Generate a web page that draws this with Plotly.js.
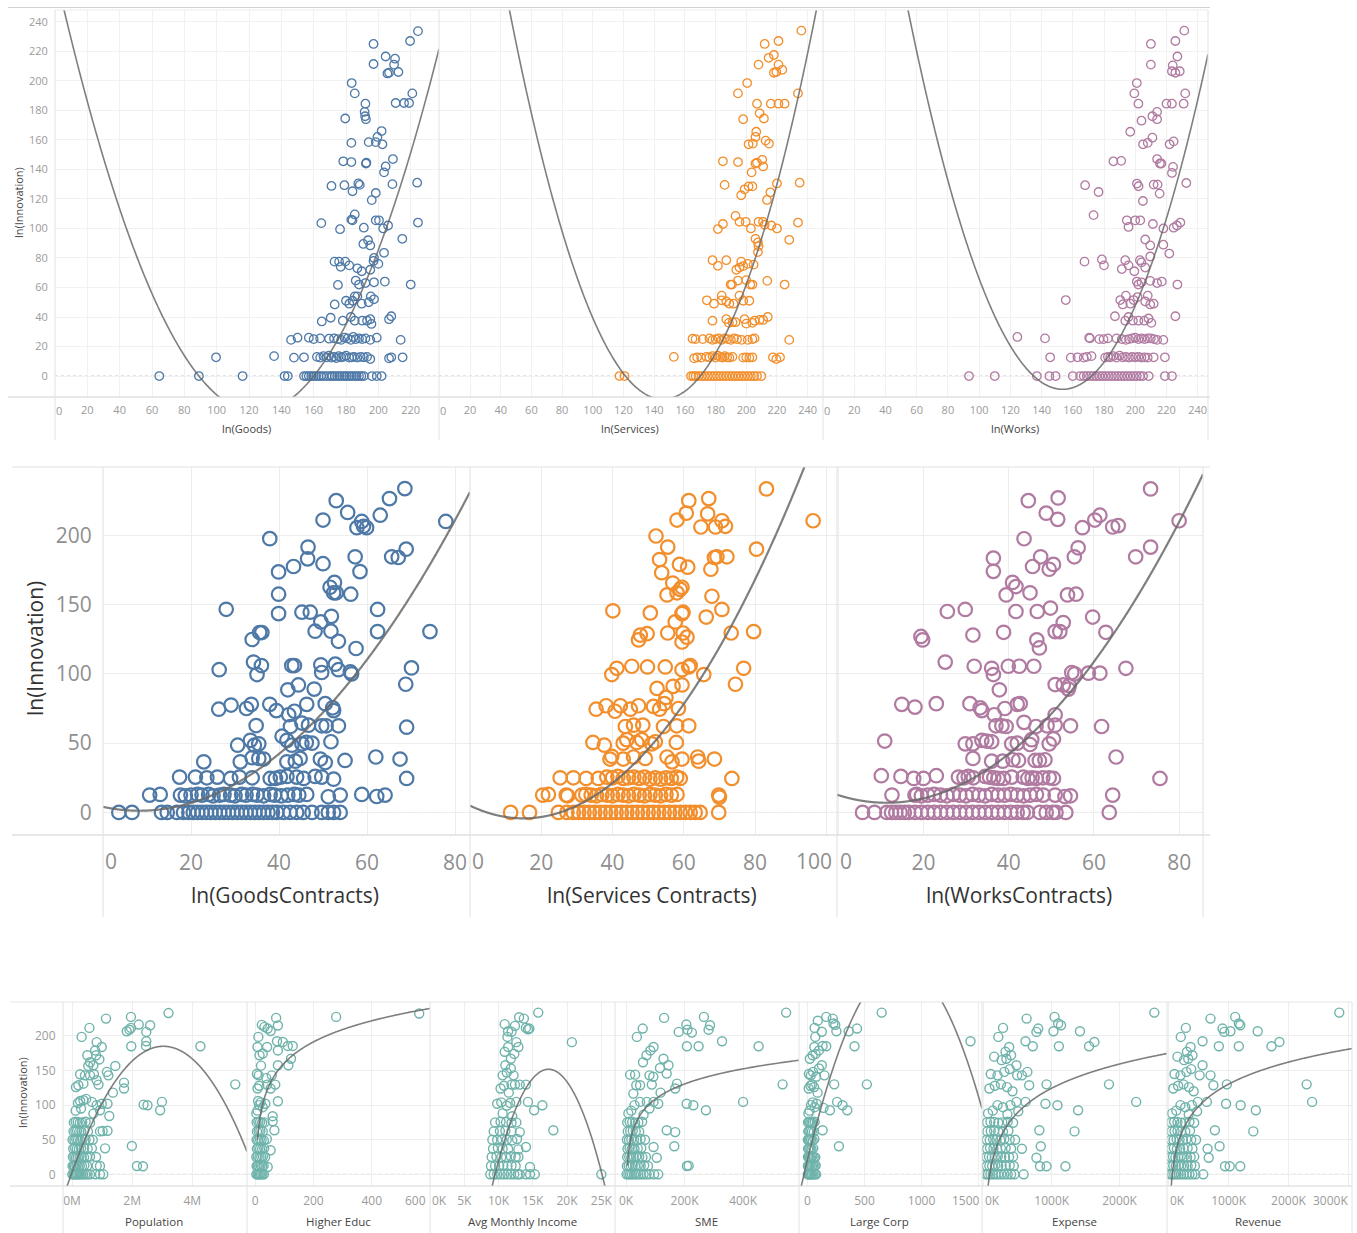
<!DOCTYPE html>
<html><head><meta charset="utf-8">
<script src="https://cdn.plot.ly/plotly-3.0.1.min.js"></script>
<style>html,body{margin:0;padding:0;background:#fff;}#chart{width:1357px;height:1233px;}</style>
</head><body><div id="chart"></div>
<script>
// ---------------- DATA ----------------
// y = ln(Innovation); x as labelled on each panel
const topGoods = [
[64.5,0],[89,0],[116,0],[142,0],[144,0],[154,0],[155.5,0],[157,0],[158.5,0],[160,0],[161.5,0],[163,0],[164.5,0],[166,0],[168,0],[170,0],[171.5,0],[173,0],[174.5,0],[176,0],[177.5,0],[179,0],[180.5,0],[182,0],[183.5,0],[185,0],[186.5,0],[188,0],[189.5,0],[191,0],[196,0],[199,0],[202,0],
[99.6,12.7],[135.5,13.5],[147.8,12.5],[154,12.7],[162,13],[164,12.5],[166,13.5],[168,12.7],[169.5,13.8],[171,12.5],[172.5,13],[174,12.2],[175.5,13.5],[177,12.7],[178.5,13],[180,13.8],[182,12.5],[183.5,12.7],[185,13],[187,12.5],[189,13],[191,12.7],[193,13],[195,11.5],[206.6,12],[208,12.7],[215,12.7],
[146,24.5],[150,26],[157,26],[160,25],[164,25.5],[169.5,25.3],[172.6,25.5],[175,25],[177,24.5],[179,26],[181,25.5],[183,24.5],[184.5,26.5],[186,25],[188,25.5],[190,25],[192,25.5],[195,24.5],[199,26],[213.8,24.5],
[165,37],[170.5,39.5],[178,37.5],[183,40],[185.4,37.5],[190,37.5],[193,37.5],[195,38.5],[195.7,35.3],[206.6,38.5],[208,40.5],
[173,48.5],[180,51],[182,49],[184,51],[185.4,54],[187,54],[189.7,49],[194,50],[195.3,54],[197.3,52],
[175,61.7],[186,64.7],[188,62],[192,63],[197.3,63.5],[204,64],[220,62],
[172.9,77.5],[175.7,77.5],[176.7,74],[179.5,77.5],[182,75],[187,73],[189.7,71],[195,72],[197,78],[197.3,80],[200,76],[203.5,83.5],
[190.7,89.5],[193.6,92],[195,88.5],[214.8,93],
[164.7,103.6],[176.3,99.5],[183.3,106],[184,105.5],[185.4,109.5],[191,100.5],[198.4,105.5],[200.4,105.5],[203,100],[206,102],[224.5,104],
[171,128.8],[179,129.3],[184,125.2],[187.6,130.5],[188.5,129.5],[195.9,119.2],[198.4,124],[208.7,130],[224,131],
[178.3,145.5],[183.3,145],[192.3,144],[192.6,144.5],[203.5,138],[204.5,142],[209,147],
[183.3,158],[194,158.5],[198.4,158.5],[199.4,162],[202.5,157],[202,166],
[179.5,174.5],[191.5,179],[191.8,176],[192.3,174],[192,184.5],[210.7,185],[215.9,185],[219,185],
[183.5,198.5],[185.4,191.5],[221,191.5],
[197,211.4],[204.5,216.5],[205.6,205],[206.6,205.5],[210.3,215],[209.7,211],[212.4,206],
[197,225],[219.6,227],[224.5,233.7]
];
const topServices = [
[117.4,0],[120.7,0],[164,0],[165.5,0],[167,0],[169,0],[171,0],[173,0],[175,0],[177,0],[179,0],[181,0],[183,0],[185,0],[187,0],[189,0],[191,0],[193,0],[195,0],[197,0],[199,0],[201,0],[203,0],[205,0],[207,0],[209.8,0],
[152.8,13],[166,12],[168,12.7],[170.6,12.5],[174,13],[176,12.7],[178,13.5],[180,12.5],[181.5,13.8],[183,13],[184.5,12.5],[186,13.5],[187.5,12.7],[189,12.5],[191,13],[198,12.5],[200,12.7],[202,12.5],[204,12.7],[217.4,12.7],[219.6,11.5],[222,12.7],
[165,25.3],[167,25],[171.7,25],[176,25.5],[178,24.5],[180,25],[182,25.5],[184,24.5],[186,25.5],[188,25],[190,24.5],[192,25.5],[194,25],[197,24.5],[201,24.5],[204,25],[205.4,25.5],[228,24.5],
[178,37.5],[187,38.5],[188.7,36],[191,36.5],[193,36.5],[198.9,38.5],[200,35.5],[204,36],[205.4,37.5],[208.7,38],[211,38],[214,40],
[174.3,51.3],[179,49],[184,51.3],[184,54.5],[187,50.5],[189,49],[191.7,49],[195.6,54.5],[198,51],[202,51],
[189.8,62],[190.7,62],[194.6,64.7],[200,65],[202.6,62],[204,62],[213.7,64.5],[225,62],
[178,78.5],[181.5,74.7],[187,78.5],[193.5,72],[195.6,73.5],[196.7,77.5],[198,74.5],[201,76],[204.8,75.5],[207.6,84],[208,88],
[206,93],[207.6,90.5],[228,92.3],
[181.5,99.6],[184.8,103],[193,108.5],[195.6,104.5],[199.6,104.5],[203,100],[208,104.5],[210.9,104.5],[212,102.5],[216.3,102],[220,100],[233.7,104],
[185.9,129.5],[196.7,122.5],[198.9,126.5],[201.5,128.5],[204,128.5],[213.5,119.3],[215.7,124.5],[220,130.5],[234.8,131],
[184.8,145.5],[194.6,145],[203.5,138],[206,144],[207,144.5],[210.4,146.5],[211,142],
[201.5,157],[204.3,157.5],[206,162],[206.5,165.5],[212.6,159.5],[214.8,157.5],
[198,174],[208.7,178],[211.5,174.5],[207,184.5],[216,184.5],[221,184.5],[225,184.5],
[194.6,191.5],[200.6,198.5],[233.7,191.5],
[208,211],[214.6,215.6],[218,217.5],[218,205.5],[219.6,206],[221,211],[223.5,207.5],
[212,225],[221,227],[235.9,234]
];
const topWorks = [
[93.5,0],[110,0],[137,0],[145,0],[149,0],[160,0],[164.7,0],[167,0],[169,0],[171,0],[173,0],[175,0],[177,0],[179,0],[181,0],[183,0],[185,0],[187,0],[189,0],[191,0],[193,0],[195,0],[197,0],[199,0],[201,0],[203,0],[205,0],[208.6,0],[219,0],[223.5,0],
[145.5,12.7],[158.7,12.5],[163,12.7],[167,12.5],[169,13],[172,13.5],[180.7,12.5],[182.5,13],[184,12.7],[186,13.5],[188,12.5],[190,13.8],[192,12.7],[194,13],[196,12.5],[198,13],[200,12.7],[202,13],[204,12.5],[206,12.7],[208,12.5],[211.8,12.7],[219,12.7],
[124.5,26.5],[142.2,25.5],[170.5,26],[171,25.5],[177,25],[179.7,25],[182.5,25.5],[188,25.5],[191.4,25],[194,24.5],[196,25],[198,25.5],[200,26],[202,25],[204,25.5],[206,25],[208,25.5],[210,25.5],[212,25],[214,24.5],[218,24.5],
[187,40.5],[193.6,37.5],[195.7,40],[198.5,37.5],[202,37.5],[205.8,37.5],[208.5,39],[210.3,36],[225.7,40.5],
[155.5,51.5],[190.4,51.5],[192,48.5],[194,54.5],[196.8,49],[199,51.5],[201.5,53.5],[206.4,50.5],[208,54.5],[209.6,48.5],[211.8,49],
[201,64],[202,62],[204,63.5],[209.6,64.5],[214,63],[217,64],[227,62],
[167.5,77.5],[178.6,79],[180,75],[191.4,72.5],[193.6,78.5],[195.7,75],[199.4,71],[203,78.5],[204,77],[206.4,73.5],[209.6,81],[221.8,83],
[206.4,92.5],[209.6,88.5],[218,89],
[173.3,109],[194.6,105.5],[195.7,101],[200,105.5],[203.2,105.5],[211.3,103],[218,100],[224.6,100.5],[226.7,102],[228.9,104],
[167.9,129.3],[176.5,124.7],[201.1,130.4],[202.1,128.6],[204.9,118.6],[211.8,129.7],[214.3,129.7],[215.6,123.6],[223.5,137.6],[224.2,141.7],[232.7,130.8],
[186,145.5],[191,145.8],[214,147],[215.8,144],[216.7,144],
[205,157],[208,158],[211,161.5],[222,157],[224.6,159],[196.8,165.5],
[204,173],[211,176],[214,174],[214,179],[202,184.5],[220,184.5],[223.5,184.5],[231,184.5],[199.4,191.5],[232,191.5],
[201,198.5],[210,211],[223.5,206.5],[224,210.5],[225.7,205.5],[227,216.5],[228.5,206.5],
[210,225],[225.7,227],[231.4,234]
];
const goodsContracts = [
[3.6,0],[6.6,0],[13.3,0],[14.6,0],[16.8,0],[18.3,0],[19.5,0],[20.5,0],[21.5,0],[22.5,0],[23.5,0],[24.5,0],[25.5,0],[26.5,0],[27.5,0],[28.5,0],[29.5,0],[30.5,0],[31.5,0],[32.5,0],[33.5,0],[34.5,0],[35.5,0],[36.5,0],[37.5,0],[38.5,0],[39.5,0],[41,0],[42.5,0],[44,0],[45.5,0],[47.5,0],[49.7,0],[51.2,0],[52.4,0],[53.9,0],
[10.6,12.5],[13,13],[17.6,12.5],[18.7,12],[20,12.5],[21.5,13],[22.5,12.5],[24,13],[25,12],[26.5,12.5],[27.5,13],[29,12.5],[30,12],[31.5,13],[32.5,12.5],[34,13],[35,12.5],[36.5,12],[38,13],[39,12.5],[40.5,12],[42,12.5],[43.5,13],[44.5,12.5],[46.3,13],[51.2,11.3],[53.9,12.5],[58.8,13],[62.2,11.5],[64.1,12.5],
[17.4,25.5],[21,25.5],[23.6,25],[26,25.5],[29,24.5],[31,25.5],[33.9,25],[38,24.5],[39.2,24.5],[40.3,25.5],[41.8,26],[44,25.5],[45.6,24.5],[48.2,26],[49.7,25.5],[52.4,24],
[22.9,36.5],[31.2,36.5],[33.9,39.5],[35.4,39],[36.5,38.5],[41.8,36.5],[43.7,37],[44.8,39],[49.4,38.5],[50.5,36],[55,37.5],[62,40],[67.5,38.5],[69,24.5],
[30.6,48.5],[33.5,52],[34.4,48.5],[35.4,49.5],[40.7,55],[41.8,52],[42.9,48.5],[45.2,49.5],[46.2,50.5],[47.5,50],[51.8,51],
[34.8,62.7],[42.6,62],[45.2,64.5],[46.7,63],[49.7,62.5],[50.7,62.5],[53.5,62.5],[69,61.5],
[26.3,74.5],[29.1,77.5],[32.6,75],[33.7,78],[37.9,78],[39.4,73.5],[42.2,70.5],[43.5,73],[46.3,78],[50.5,78.5],[52.2,75.5],[52.4,73.5],
[42,88.5],[44.4,92],[48,89],[68.8,92.5],
[26.4,103],[35,99.5],[34.2,108.5],[36,106],[42.9,106],[43.5,106],[49.5,106.5],[49.7,101],[52.8,107],[53.5,103],[56.2,101.5],[56.5,100],[70.1,104.3],
[33.9,124.8],[35.6,129.8],[36.1,129.8],[48.2,130.8],[51.8,130.8],[53.5,123.5],[57.5,118.3],[62.4,130.5],[74.3,130.5],
[28,146.6],[39.9,143.5],[45.2,144.5],[47.1,144.5],[49.5,137.5],[51.9,141.5],[62.4,146.5],
[39.9,157.5],[51.6,162.5],[52.6,166],[52.4,158.5],[53,158.5],[56.3,157.5],
[39.9,173.6],[43.3,177.5],[46.5,183],[50,179.5],[57.3,184.5],[58.4,173.8],[65.6,184.5],[67.1,184],[68.9,190],
[37.9,197.6],[46.6,191.5],
[50,211],[55.6,216.5],[57.7,205.5],[58.8,210],[59.2,206.5],[59.9,205.5],[63,214.5],[77.9,210],
[53,225],[65.1,226.5],[68.6,233.7]
];
const servicesContracts = [
[11.4,0],[16.7,0],[24.8,0],[27.2,0],[29,0],[30.5,0],[32,0],[33.5,0],[35,0],[36.5,0],[38,0],[39.5,0],[41,0],[42.5,0],[44,0],[45.5,0],[47,0],[48.5,0],[50,0],[51.5,0],[53,0],[54.5,0],[56,0],[57.5,0],[59,0],[60.5,0],[61.8,0],[63.2,0],[64.6,0],[69.8,0],
[20.4,12.5],[22,13],[27,12.5],[27.4,12],[31.4,12.5],[32.5,13],[34,12.5],[35.5,12],[37,13],[38.5,12.5],[40,12],[41.5,13],[43,12.5],[44.5,12],[46,13],[47.5,12.5],[49,12],[50.5,13],[52,12.5],[53.5,12],[55,13],[56.5,12.5],[58.1,13],[69.8,12.5],[70,11],
[25.3,25],[29,25],[32.6,24.5],[36,24.5],[38.4,25.5],[40,25],[41.5,26],[43,24.5],[44.5,25],[46,25.5],[47.5,24.5],[49,25.5],[50.5,24],[52,25],[53.5,24],[55,25],[56.5,24.5],[58,25.5],[59,24.5],[73.5,24.5],
[39.3,38.5],[39.8,40.5],[43,38.5],[45.9,40],[49.2,39],[55.3,40],[56.7,36.5],[59.5,38.5],[63.9,40],[64.2,37],[68.6,38.5],
[34.5,50.5],[37.7,48.5],[43,50],[44,52.5],[46.8,50.5],[48.2,52.5],[51,49.5],[52,51],[57.9,50.5],
[43.6,62],[45.9,63],[48.5,63],[54.3,62],[58,62.5],[61.4,62.5],
[35.4,74.5],[38.2,77],[40.7,73],[42.2,77],[45,74.5],[47.3,77],[51.5,76.5],[53.2,74.5],[54.5,78.5],[58.5,75],
[52.5,89.5],[55,83],[57,91],[59.5,92],[74.5,92.5],
[39.8,99.5],[41.2,104],[45.4,105.5],[49.8,105],[54.8,105],[59.5,103],[61.4,105],[61.8,106],[65.6,99.5],[76.8,104],
[47.3,124.5],[47.8,128],[49.7,129],[55.5,129.5],[59.5,123],[59.8,129.5],[60.9,126.5],[73.3,129.5],[79.6,130.5],
[40.1,145.5],[50.6,144],[57.6,137.5],[59.5,143.5],[59.8,144.5],[66.3,141],[70.7,146.5],[67.9,156],
[55.3,157],[58.1,158.5],[59,161],[59.5,162.5],[56.9,165.5],
[53.2,182.5],[53.8,173],[58.8,179],[61.1,177],[67.6,175.5],[68.6,184],[69.3,184.5],[72.1,184.5],[80.4,190],
[52.2,199.5],[55.5,191.5],
[58.1,211],[60.7,216],[64.8,206],[66.7,215.5],[68.9,206],[70.7,210.5],[71.7,206.5],[96.3,210.5],
[61.4,225],[67,226.5],[83.2,233.5]
];
const worksContracts = [
[5.7,0],[8.5,0],[11.4,0],[12.5,0],[13.5,0],[14.5,0],[15.5,0],[16.5,0],[18,0],[19.5,0],[21,0],[22.5,0],[24,0],[25.5,0],[27,0],[28.5,0],[30,0],[31.5,0],[33,0],[34.5,0],[36,0],[37.5,0],[39,0],[40.5,0],[42,0],[43.4,0],[44.4,0],[47.3,0],[48.8,0],[50.3,0],[51.1,0],[53.4,0],[63.6,0],
[12.6,12.5],[18,12.5],[18.4,13],[19.5,12],[21,12.5],[22.5,13],[24,12.5],[25.5,12],[27,13],[28.5,12.5],[30,12],[31.5,13],[33,12.5],[34.5,12],[36,13],[37.5,12.5],[39,12.5],[40.5,13],[42,12.5],[43.5,12],[45,12.5],[46.5,13],[48.1,12.5],[50.9,12.5],[53.2,11.5],[54.5,12],[64.4,12.5],
[10.1,26.5],[14.7,26],[17.7,24.5],[20,24.5],[23,26.5],[28.2,25.5],[29.5,25],[30.5,26],[31.7,25],[34.5,26],[35.5,25.5],[36.5,25],[37.5,24.5],[38.8,24.5],[40.7,25.5],[43.4,25.5],[44.5,24.5],[45.5,25],[46.5,24.5],[48,25],[49.5,25],[50.5,24.5],[75.5,24.5],
[31.6,39],[36,37],[38.6,37],[41,38],[42.3,37.5],[46.2,37.5],[47.2,37.5],[48.5,38],[65.2,40],
[10.9,51.5],[29.8,49.5],[31.6,49.5],[33.7,52],[34.8,51.5],[36,51],[40.7,49.5],[42,50],[45,49],[45.4,52.5],[49.5,49.5],[50.5,53],
[37,62.5],[38.4,62.5],[39.4,62],[43.6,65],[46.4,62],[49,62.5],[50.9,63],[54.5,62.5],[61.8,62],
[14.9,78],[18,76],[23,78.5],[30.9,78.5],[33.3,75.5],[33.7,73.5],[36.6,70.5],[39.1,75],[42,78],[42.7,78.5],[50.9,70.5],
[37.8,88.5],[54.2,91.5],[50.9,92.3],[52.8,92],[54,89],
[25.1,108.5],[31.9,105.5],[36,104],[36.4,99.5],[39.9,105.5],[42.5,105.5],[45.9,105.5],[54.8,101],[55.5,100],[58.7,100.5],[61.4,100.5],[67.5,104],
[19.4,127],[19.8,124.5],[31.6,128],[38.8,130],[46.6,124.5],[47.2,118.7],[50.9,130.5],[52,130.5],[52.8,137],[62.8,130],[59.7,141],
[25.6,145],[29.8,146.5],[41.7,145],[46.7,145],[49.8,147.5],[45,158.5],[39.4,157],
[40.9,166],[41.7,163],[53.8,157],[55.8,157.5],
[36.4,183.5],[36.4,174],[45.6,177.5],[47.5,184.5],[49.5,175.5],[50.5,179],[55.4,184.5],[56.3,191],[69.8,184.5],[73.3,191.5],
[43.6,197.5],
[48.8,216],[51.5,211.5],[57.3,205.5],[60.2,211],[61.4,214.5],[64.4,206],[65.7,207],[80,210.5],
[44.6,225],[51.6,227],[73.3,233.5]
];
// Population in millions
const population = [
[0.01,0],[0.05,0],[0.09,0],[0.13,0],[0.17,0],[0.21,0],[0.26,0],[0.31,0],[0.37,0],[0.44,0],[0.52,0],[0.6,0],[0.77,0],[0.93,0],[1.04,0],
[0.02,12],[0.06,12.5],[0.1,12],[0.15,13],[0.2,12],[0.26,12.5],[0.33,12],[0.41,13],[0.5,12],[0.82,12.5],[0.93,12],
[0.03,25],[0.08,25.5],[0.13,24.5],[0.19,25],[0.25,26],[0.32,25],[0.4,24.5],[0.5,25],[0.6,25.5],[0.8,25],
[0.04,37],[0.1,38],[0.16,37],[0.23,36.5],[0.3,37.5],[0.4,38],[0.52,37],[0.66,37.5],[1.1,37.5],
[0.02,50],[0.08,49.5],[0.14,50.5],[0.2,50],[0.27,49],[0.35,51],[0.45,50],[0.58,50],[0.69,50],
[0.05,62],[0.11,62.5],[0.17,63],[0.24,62],[0.31,61.5],[0.4,63],[0.53,62],[0.93,62],[1.02,62.5],[1.18,63],
[0.06,75],[0.12,76],[0.19,75.5],[0.26,74.5],[0.34,75],[0.45,76],[0.6,74.5],
[0.71,87.7],[0.82,100],[0.93,92.5],[0.99,102],[1.18,102],[1.24,84.3],[2.93,92.5],[2.99,104.6],[2.38,100.7],[2.51,99.8],
[0.2,103],[0.27,106],[0.38,107],[0.47,109],[0.66,104.6],[0.12,92],[0.3,95],
[1.99,41],[2.16,12],[2.36,11.6],
[0.13,126],[0.21,128.7],[0.38,131],[0.27,144.6],[0.43,143],[0.6,143],[0.73,144.6],[0.82,136],[0.88,129.6],[1.16,148],[1.21,143],[1.44,156.6],[1.36,118],[1.73,132.5],[1.73,123.9],
[0.51,172],[0.6,162],[0.54,156.6],[0.77,179],[0.8,172],[0.82,191],[0.91,166],[0.99,184],[0.71,157.6],
[0.32,198.6],[0.58,211.6],[1.13,225],[1.96,227.5],[1.82,206.7],[1.91,209],[1.96,211.6],[2.22,216.4],[2.47,205.8],[2.6,215.4],[2.47,192.3],[2.46,185.5],[1.97,185],[3.21,233],[4.27,185],[5.43,130]
];
const higherEduc = [
[4,0],[8,0],[12,0],[16,0],[20,0],[25,0],[30,0],
[5,12],[9,12.5],[14,12],[19,13],[24,12],[29,12.5],[43,10.6],
[4,25],[9,25.5],[15,24.5],[21,25],[27,26],[34,25],
[6,37],[11,38],[17,37],[24,36.5],[31,37.5],[53,34.7],
[5,50],[10,49.5],[16,50.5],[22,50],[30,49],[40,51],
[6,62],[12,62.5],[18,63],[26,62],[66,63.6],
[5,75],[11,76],[17,75.5],[24,74.5],[32,75],[60,76.6],
[4,88],[8,92],[13,100],[19,104],[26,97],[35,102],[60,84],[78,105.5],[10,106],
[8,124],[14,128],[41,129.6],[53,124],[69,129.6],
[6,145],[12,143],[20,157],[38,139],[57,143],[78,157.6],[114,157.6],
[15,172],[26,174.5],[123,167],[78,179],[41,184],[75,192.3],[95,191.3],[112,185.5],[129,185.5],[8,184],
[11,198.6],[23,216],[32,213],[43,210.6],[53,207],[72,226],[78,215],[278,227.5],[563,232.3]
];
// Avg monthly income in thousands
const avgIncome = [
[8.8,0],[9.3,0],[9.8,0],[10.3,0],[10.8,0],[11.3,0],[11.8,0],[12.3,0],[12.8,0],[13.1,0],[14,0],[14.6,0],[15.3,0],[25,0],
[8.9,12],[9.5,12.5],[10.1,12],[10.7,13],[11.3,12],[11.9,12.5],[12.5,12],[14.6,10.6],
[9,25],[9.7,25.5],[10.4,24.5],[11.1,25],[11.8,26],[12.5,25],[12.9,25],
[9.2,37],[9.9,38],[10.6,37],[11.4,36.5],[12.9,36],[14,39.5],
[9.1,50],[9.8,49.5],[10.5,50.5],[11.2,50],[12,49],[12.7,51],
[9.3,62],[10.2,62.5],[11,63],[11.9,62],[13.1,61],[18,63.6],
[9.5,75],[10.3,76],[11.1,75.5],[11.9,74.5],[12.6,75],
[9.8,102],[10.4,104],[11.2,99],[11.7,103],[12.6,104.6],[14.3,104.6],[15.2,92.5],[16.4,99.8],[10.6,88],[12,84],
[10.3,124],[11.9,129.6],[12.4,129.6],[13.1,129.6],[14,129.6],[10.8,128],[11.5,118],
[11.2,147],[11,157.6],[12.2,143],[10.6,143],[11.8,153],
[11.4,184],[12.9,184],[10.9,177],[12.3,174],[11.8,167],[12.6,191],[20.7,191],
[10.9,217],[11.4,206.7],[11.9,206],[12.4,214.5],[14,211.6],[14.3,209.6],[14.5,210.6],[13,227],[13.7,225],[15.8,233.7],[11.3,198.6]
];
// SME in thousands
const sme = [
[2,0],[8,0],[14,0],[20,0],[27,0],[34,0],[42,0],[50,0],[60,0],[70,0],[80,0],[96,0],[110,0],
[3,12],[9,12.5],[16,12],[23,13],[31,12],[40,12.5],[50,12],[62,13],[75,12],[208,12],[214,12.5],
[4,25],[11,25.5],[18,24.5],[26,25],[35,26],[45,25],[56,24.5],[68,25],[105,24],
[5,37],[12,38],[20,37],[29,36.5],[40,37.5],[52,38],[94,39.5],[165,40.5],
[3,50],[10,49.5],[18,50.5],[27,50],[38,49],[50,51],[65,50],
[6,62],[14,62.5],[23,63],[33,62],[45,61.5],[139,63.6],[168,61],
[4,75],[12,76],[21,75.5],[31,74.5],[42,75],[55,76],
[8,88],[18,92],[29,100],[48,104.6],[71,104.6],[94,104.6],[110,102],[207,102],[230,99.8],[273,92.5],[400,104.6],[60,86],[80,95],
[25,116.6],[35,128.7],[48,128.7],[88,129.6],[118,118],[174,131],[168,124],[535,130],
[14,144],[31,144],[80,143],[116,153.7],[139,145.5],[145,157.6],[93,141],
[58,162],[83,179],[94,184],[128,167],[208,185],[248,185],[328,192.3],[453,185],[70,172],
[37,198.6],[57,210.6],[130,226],[206,216.4],[210,209],[225,204.8],[180,205.8],[266,227.5],[287,215.4],[282,209],[547,233.7]
];
const largeCorp = [
[2,0],[8,0],[15,0],[22,0],[30,0],[40,0],[52,0],[65,0],[75,0],
[3,12],[10,12.5],[18,12],[27,13],[38,12],[50,12.5],[62,12],[72,13],
[4,25],[12,25.5],[20,24.5],[30,25],[42,26],[55,25],[68,24.5],
[5,37],[14,38],[24,37],[35,36.5],[50,37.5],[275,40.5],
[3,50],[11,49.5],[20,50.5],[31,50],[45,49],[60,51],
[6,62],[15,62.5],[25,63],[38,62],[55,61.5],[132,63.6],
[4,75],[13,76],[23,75.5],[34,74.5],[47,75],[62,76],
[8,88],[18,92],[30,100],[45,104],[62,97],[80,102],[196,92.5],[259,104.6],[307,99.8],[348,92.5],[140,96],
[10,124],[25,128],[40,130],[58,126],[88,118],[234,130],[520,130],
[12,145],[28,143],[48,148],[75,141],[148,143],[125,157.6],[100,153],
[20,167],[45,172],[70,174],[100,179],[132,185.5],[164,185],[412,185],[1429,192.3],[60,184],
[68,198.6],[62,211.6],[125,206],[164,227.5],[221,225],[227,218],[243,216],[253,206.7],[361,206.7],[434,210.6],[650,233.7],[90,222]
];
// Expense and Revenue in thousands
const expense = [
[30,0],[60,0],[95,0],[130,0],[170,0],[210,0],[255,0],[300,0],[350,0],[400,0],[450,0],[586,0],
[40,12],[80,12.5],[120,12],[165,13],[210,12],[260,12.5],[320,12],[380,13],[440,12],[827,11.6],[923,11.6],[1202,11.6],
[35,25],[75,25.5],[115,24.5],[160,25],[205,26],[255,25],[310,24.5],[370,25],[430,25.5],[774,24],
[45,37],[90,38],[140,37],[195,36.5],[250,37.5],[320,38],[400,37],[560,37],[838,40.5],
[40,50],[85,49.5],[135,50.5],[185,50],[240,49],[300,51],[380,50],[460,50],
[50,62],[100,62.5],[150,63],[210,62],[280,61.5],[360,63],[817,63.6],[1336,62],
[45,75],[95,76],[150,75.5],[210,74.5],[270,75],[350,76],[430,74.5],
[60,88],[130,92],[200,100],[280,97],[346,86.7],[506,91],[479,104.6],[613,104.6],[907,102],[1084,99.8],[1389,92.5],[2245,104.6],[390,100],
[80,124],[160,128],[250,130],[340,126],[667,128.7],[923,130],[1844,130],[420,120],
[100,145],[200,143],[300,148],[490,143],[560,143],[640,148],[479,157.6],[380,152],
[150,170],[260,165],[318,177],[372,184],[330,167],[400,172],[613,192.3],[720,185],[1105,185],[1550,185],[1630,191.3],
[212,198.6],[281,211.6],[629,225],[1041,227.5],[1095,218],[1137,215.4],[1025,206.7],[1416,206.7],[800,210.6],[774,205.8],[2513,233.7]
];
const revenue = [
[25,0],[55,0],[90,0],[125,0],[165,0],[205,0],[250,0],[295,0],[345,0],[395,0],[445,0],[576,0],
[35,12],[75,12.5],[115,12],[160,13],[205,12],[255,12.5],[315,12],[375,13],[435,12],[939,11.6],[1018,11.6],[1194,11.6],
[30,25],[70,25.5],[110,24.5],[155,25],[200,26],[250,25],[305,24.5],[365,25],[425,25.5],[667,24],
[40,37],[85,38],[135,37],[190,36.5],[245,37.5],[315,38],[395,37],[648,37],[848,40.5],
[35,50],[80,49.5],[130,50.5],[180,50],[235,49],[295,51],[375,50],[455,50],
[45,62],[95,62.5],[145,63],[205,62],[275,61.5],[355,63],[770,63.6],[1412,62],
[40,75],[90,76],[145,75.5],[205,74.5],[265,75],[345,76],[425,74.5],
[55,88],[125,92],[195,100],[275,97],[333,86.7],[473,91],[485,104.6],[636,104.6],[957,102],[1200,99.8],[1454,92.5],[2394,104.6],[385,100],
[75,124],[155,128],[245,130],[335,126],[745,128.7],[970,130],[2303,130],[415,120],
[95,145],[195,143],[295,148],[515,143],[697,143],[564,157.6],[375,152],
[145,170],[255,165],[303,177],[364,184],[325,167],[395,172],[564,192.3],[836,185],[1170,185],[1715,185],[1848,191.3],
[200,198.6],[285,211.6],[697,225],[1109,227.5],[1170,218],[1194,215.4],[1030,206.7],[1485,206.7],[897,210.6],[927,205.8],[2848,233.7]
];
// Trend line coefficients
// 'vq': a*(x-h)^2+k  -> [a,h,k];  'poly': c0+c1*x+c2*x^2;  'log': a+b*ln(x) -> [a,b,xStart]
const trendTopGoods = [0.01926, 124.5, -24.3];
const trendTopServices = [0.02637, 145.7, -15.7];
const trendTopWorks = [0.0262, 153.5, -9];
const trendGoodsContracts = [4, -0.674, 0.04076];
const trendServicesContracts = [0.0408, 15, -4.3];
const trendWorksContracts = [12.5, -0.976, 0.043];
const trendPopulation = [-19.7, 3.04, 185];
const trendHigherEduc = [-41.8, 44, 8];
const trendIncome = [-2.495, 17.3, 151.8];
const trendSME = [-36.9, 31.6, 4.8];
const trendLargeCorp = [-4.14e-4, 823, 301.9];
const trendExpense = [-223.7, 50.4, 40];
const trendRevenue = [-187.2, 45.96, 25];

// Axis titles
const yTitle = 'ln(Innovation)';
const topTitles = ['ln(Goods)', 'ln(Services)', 'ln(Works)'];
const midTitles = ['ln(GoodsContracts)', 'ln(Services Contracts)', 'ln(WorksContracts)'];
const botTitles = ['Population', 'Higher Educ', 'Avg Monthly Income', 'SME', 'Large Corp', 'Expense', 'Revenue'];

// ---------------- LAYOUT / STYLE ----------------
const W = 1357, H = 1233;
const FONT = "'Open Sans', 'Noto Sans', sans-serif";
const BLUE = '#4e79a7', ORANGE = '#f28e2b', PURPLE = '#b07aa1', TEAL = '#6fb3ab';
const step = (a, b, s) => { const r = []; for (let v = a; v <= b + 1e-9; v += s) r.push(v); return r; };

const rows = [
  {top: 10, bottom: 397, yr: [-14.2, 248], ydt: 20, fs: 11, tc: '#9b9b9b', ms: 8.5, ml: 1.3, tl: 1.6, xtl: 3, ytl: 4, grid: '#f1f1f1', lblY: 410},
  {top: 467, bottom: 835, yr: [-16.3, 249.3], ydt: 50, fs: 21, tc: '#8f8f8f', ms: 13.5, ml: 2.2, tl: 2.2, xtl: 9, ytl: 6, grid: '#ededed', lblY: 861},
  {top: 1002, bottom: 1186, yr: [-16.9, 249], ydt: 50, fs: 12, tc: '#9b9b9b', ms: 9, ml: 1.4, tl: 1.6, xtl: 4, ytl: 4, grid: '#eeeeee', lblY: 1200}
];

// tick labels; an entry [text, px] is drawn as a label nudged inside its pane, as Tableau does at pane edges
const t20 = step(0, 240, 20);
const topTT = t20.map(v => v === 0 ? '' : String(v));
const panels = [
  {d: topGoods, c: BLUE, row: 0, px: [55, 439], xr: [0, 237.5], tv: t20, tt: topTT, edge: [['0', 59]], tr: {k: 'vq', c: trendTopGoods}},
  {d: topServices, c: ORANGE, row: 0, px: [439, 823], xr: [-0.2, 250], tv: t20, tt: topTT, edge: [['0', 443]], tr: {k: 'vq', c: trendTopServices}},
  {d: topWorks, c: PURPLE, row: 0, px: [823, 1208], xr: [0, 246.6], tv: t20, tt: topTT, edge: [['0', 827]], tr: {k: 'vq', c: trendTopWorks}},
  {d: goodsContracts, c: BLUE, row: 1, px: [103, 470], xr: [0, 83.4], tv: [0,20,40,60,80], tt: ['','20','40','60','80'], edge: [['0', 111]], tr: {k: 'poly', c: trendGoodsContracts}},
  {d: servicesContracts, c: ORANGE, row: 1, px: [470, 837], xr: [0, 103], tv: [0,20,40,60,80,100], tt: ['','20','40','60','80',''], edge: [['0', 478], ['100', 814]], tr: {k: 'vq', c: trendServicesContracts}},
  {d: worksContracts, c: PURPLE, row: 1, px: [837, 1203], xr: [-0.3, 85.6], tv: [0,20,40,60,80], tt: ['','20','40','60','80'], edge: [['0', 846]], tr: {k: 'poly', c: trendWorksContracts}},
  {d: population, c: TEAL, row: 2, px: [63, 247], xr: [-0.3, 5.82], tv: [0,2,4], tt: ['0M','2M','4M'], edge: [], tr: {k: 'vq', c: trendPopulation}},
  {d: higherEduc, c: TEAL, row: 2, px: [247, 430], xr: [-28, 600], tv: [0,200,400,600], tt: ['0','200','400',''], edge: [['600', 415]], tr: {k: 'log', c: trendHigherEduc}},
  {d: avgIncome, c: TEAL, row: 2, px: [430, 615], xr: [0, 27], tv: [0,5,10,15,20,25], tt: ['','5K','10K','15K','20K','25K'], edge: [['0K', 440]], tr: {k: 'vq', c: trendIncome}},
  {d: sme, c: TEAL, row: 2, px: [615, 799], xr: [-37.7, 591], tv: [0,200,400], tt: ['0K','200K','400K'], edge: [], tr: {k: 'log', c: trendSME}},
  {d: largeCorp, c: TEAL, row: 2, px: [799, 982], xr: [-75, 1530], tv: [0,500,1000,1500], tt: ['0','500','1000',''], edge: [['1500', 966]], tr: {k: 'vq', c: trendLargeCorp}},
  {d: expense, c: TEAL, row: 2, px: [982, 1167], xr: [-29, 2700], tv: [0,1000,2000], tt: ['','1000K','2000K'], edge: [['0K', 992]], tr: {k: 'log', c: trendExpense}},
  {d: revenue, c: TEAL, row: 2, px: [1167, 1352], xr: [-30, 3061], tv: [0,1000,2000,3000], tt: ['','1000K','2000K',''], edge: [['0K', 1177], ['3000K', 1330]], tr: {k: 'log', c: trendRevenue}}
];

function trendY(tr, x) {
  const c = tr.c;
  if (tr.k === 'vq') return c[0] * (x - c[1]) * (x - c[1]) + c[2];
  if (tr.k === 'poly') return c[0] + c[1] * x + c[2] * x * x;
  return c[0] + c[1] * Math.log(x);
}

const traces = [];
const layout = {
  width: W, height: H, margin: {l: 0, r: 0, t: 0, b: 0},
  paper_bgcolor: '#fff', plot_bgcolor: 'rgba(0,0,0,0)', showlegend: false,
  font: {family: FONT, color: '#555'}, shapes: [], annotations: []
};
const ann = (txt, px, py, size, rot, col) => layout.annotations.push({text: txt, xref: 'paper', yref: 'paper', x: px / W, y: 1 - py / H,
  xanchor: 'center', yanchor: 'middle', showarrow: false, textangle: rot || 0, font: {family: FONT, size: size, color: col || '#444'}});

const firstOfRow = [0, 3, 6];
panels.forEach((p, i) => {
  const n = i + 1, sfx = n === 1 ? '' : String(n);
  const R = rows[p.row];
  layout['xaxis' + sfx] = {
    domain: [p.px[0] / W, p.px[1] / W], anchor: 'y' + sfx, range: p.xr,
    tickmode: 'array', tickvals: p.tv, ticktext: p.tt,
    showgrid: true, gridcolor: R.grid, gridwidth: 1, zeroline: false, showline: false,
    ticks: 'outside', ticklen: R.xtl, tickcolor: 'rgba(0,0,0,0)',
    tickfont: {family: FONT, size: R.fs, color: R.tc}, fixedrange: true
  };
  layout['yaxis' + sfx] = {
    domain: [1 - R.bottom / H, 1 - R.top / H], anchor: 'x' + sfx, range: R.yr,
    tickmode: 'linear', tick0: 0, dtick: R.ydt,
    showgrid: true, gridcolor: R.grid, gridwidth: 1, zeroline: false, showline: false,
    showticklabels: firstOfRow.includes(i),
    ticks: 'outside', ticklen: R.ytl, tickcolor: 'rgba(0,0,0,0)',
    tickfont: {family: FONT, size: R.fs, color: R.tc}, fixedrange: true
  };
  p.edge.forEach(e => ann(e[0], e[1], R.lblY, R.fs, 0, R.tc));
  layout.shapes.push({type: 'line', xref: 'x' + sfx + ' domain', yref: 'y' + sfx, x0: 0, x1: 1, y0: 0, y1: 0,
    line: {color: '#c4c4c4', width: 1, dash: 'dot'}, layer: 'below'});
  traces.push({
    type: 'scatter', mode: 'markers', xaxis: 'x' + sfx, yaxis: 'y' + sfx,
    x: p.d.map(q => q[0]), y: p.d.map(q => q[1]),
    marker: {symbol: 'circle-open', size: R.ms, color: p.c, line: {width: R.ml}},
    hoverinfo: 'skip', cliponaxis: true
  });
  const x0 = p.tr.k === 'log' ? p.tr.c[2] : p.xr[0];
  const x1 = p.xr[1];
  const tx = [], ty = [];
  for (let j = 0; j <= 400; j++) {
    const x = p.tr.k === 'log' ? x0 * Math.pow(x1 / x0, j / 400) : x0 + (x1 - x0) * j / 400;
    tx.push(x); ty.push(trendY(p.tr, x));
  }
  traces.push({
    type: 'scatter', mode: 'lines', xaxis: 'x' + sfx, yaxis: 'y' + sfx, x: tx, y: ty,
    line: {color: 'rgba(105,105,105,0.85)', width: R.tl, shape: 'spline'}, hoverinfo: 'skip'
  });
});

// separators / borders (Tableau pane lines)
const hl = (py, xa, xb, col) => layout.shapes.push({type: 'line', xref: 'paper', yref: 'paper', x0: xa / W, x1: xb / W, y0: 1 - py / H, y1: 1 - py / H, line: {color: col, width: 1}});
const vl = (px, ya, yb, col) => layout.shapes.push({type: 'line', xref: 'paper', yref: 'paper', x0: px / W, x1: px / W, y0: 1 - ya / H, y1: 1 - yb / H, line: {color: col, width: 1}});
hl(7.5, 8, 1210, '#d2d2d2'); hl(10, 55, 1208, '#ececec'); hl(397, 8, 1210, '#d0d0d0');
[55, 439, 823, 1208].forEach(x => vl(x, 10, 440, '#e2e2e2'));
hl(467, 12, 1210, '#e0e0e0'); hl(835, 12, 1210, '#d0d0d0');
[103, 470, 837, 1203].forEach(x => vl(x, 467, 917, '#e0e0e0'));
hl(1002, 10, 1352, '#e6e6e6'); hl(1186, 10, 1352, '#d6d6d6');
[63, 247, 430, 615, 799, 982, 1167, 1352].forEach(x => vl(x, 1002, 1233, '#e2e2e2'));

// axis titles
ann(yTitle, 19, 203, 11, -90, '#444');
[246, 630, 1015].forEach((x, k) => ann(topTitles[k], x, 428, 11, 0, '#444'));
ann(yTitle, 35, 649, 21, -90, '#333');
[285, 652, 1019].forEach((x, k) => ann(midTitles[k], x, 895, 21, 0, '#333'));
ann(yTitle, 22, 1093, 11, -90, '#444');
[154, 338, 522, 706, 880, 1074, 1258].forEach((x, k) => ann(botTitles[k], x, 1221, 11.5, 0, '#444'));

Plotly.newPlot('chart', traces, layout, {displayModeBar: false, staticPlot: true});
</script></body></html>
